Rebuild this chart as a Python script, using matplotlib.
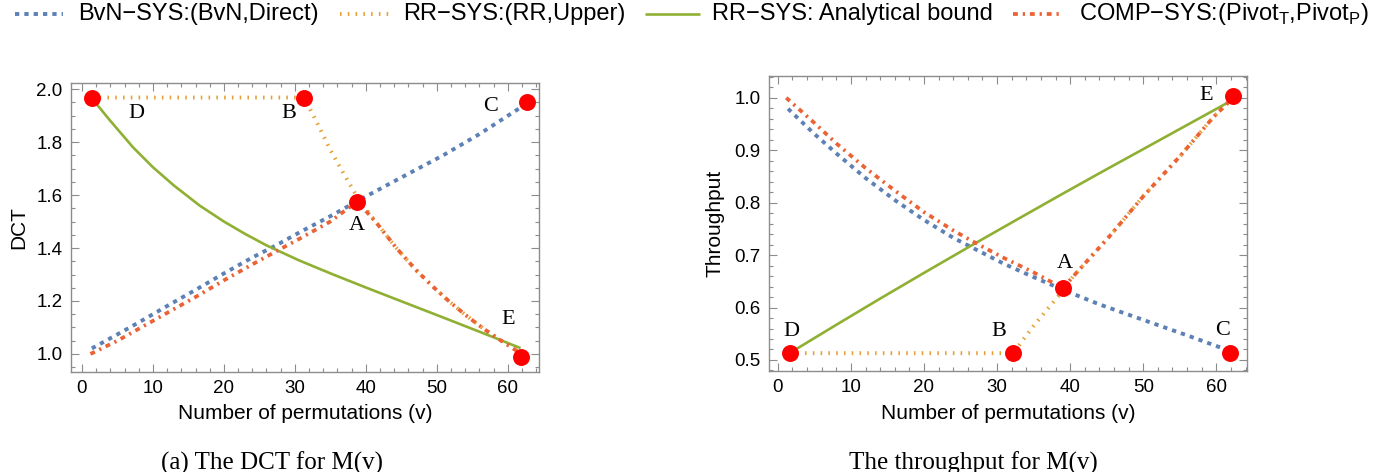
import numpy as np
import matplotlib
matplotlib.use("Agg")
import matplotlib.pyplot as plt
from matplotlib.lines import Line2D
from matplotlib.ticker import MultipleLocator, FormatStrFormatter

plt.rcParams['font.family'] = ['Liberation Sans', 'DejaVu Sans']
plt.rcParams['mathtext.fontset'] = 'custom'
plt.rcParams['mathtext.rm'] = 'Liberation Sans'

# ---------------- data ----------------
# left: DCT
dct_bvn_v = [1.4, 5, 8, 12, 16.2, 20, 24, 27.2, 31, 35, 39, 44, 50.9, 56, 61.9, 62.7]
dct_bvn = [1.021, 1.074, 1.119, 1.181, 1.245, 1.304, 1.364, 1.408, 1.464, 1.520,
           1.580, 1.652, 1.750, 1.830, 1.932, 1.95]

dct_rr_v = [1.4, 31.3, 33, 35, 37, 38.8, 41.5, 44.3, 47.1, 49.5, 51.8, 54.2, 56.5, 58.9, 61.2, 62.0]
dct_rr = [1.968, 1.968, 1.88, 1.77, 1.675, 1.592, 1.495, 1.40, 1.316, 1.253, 1.197,
          1.144, 1.097, 1.053, 1.013, 1.0]

dct_bound_v = [1.4, 4, 7.2, 10, 13, 16.6, 20, 23, 26, 30.7, 35.4, 40, 44.8, 50, 54.2, 58, 61.8]
dct_bound = [1.965, 1.88, 1.78, 1.705, 1.635, 1.560, 1.500, 1.453, 1.410, 1.352,
             1.300, 1.251, 1.201, 1.147, 1.103, 1.063, 1.022]

dct_comp_v = [1.2, 5, 8, 12, 16.2, 20, 24, 27.2, 31, 35, 38.8, 41.5, 44.3, 47.1, 49.5,
              51.8, 54.2, 56.5, 58.9, 61.2, 62.0]
dct_comp = [1.0, 1.05, 1.095, 1.155, 1.218, 1.278, 1.338, 1.385, 1.44, 1.50, 1.576,
            1.495, 1.40, 1.316, 1.253, 1.197, 1.144, 1.097, 1.053, 1.013, 1.0]

dct_pts_v = [38.8, 31.3, 62.7, 1.4, 61.8]
dct_pts = [1.574, 1.968, 1.953, 1.968, 0.99]
dct_lbl_v = [38.8, 29.1, 57.6, 7.6, 60.0]
dct_lbl = [1.486, 1.909, 1.934, 1.909, 1.129]

# right: throughput
thr_bvn_v = [1.4, 5, 8, 12, 16.2, 20, 24, 27.2, 31, 35, 39, 44, 50.9, 56, 61.9]
thr_bvn = [0.979, 0.931, 0.894, 0.847, 0.803, 0.767, 0.733, 0.710, 0.683, 0.658,
           0.634, 0.606, 0.572, 0.547, 0.517]

thr_rr_v = [1.6, 32.2, 35, 39, 40.4, 45.4, 50, 55, 59.6, 62.3]
thr_rr = [0.513, 0.513, 0.565, 0.632, 0.659, 0.736, 0.812, 0.888, 0.963, 1.0]

thr_bound_v = [1.6, 8, 14, 20, 26.2, 32, 38.6, 44, 50, 56, 62]
thr_bound = [0.513, 0.567, 0.617, 0.666, 0.716, 0.762, 0.814, 0.856, 0.902, 0.948, 0.994]

thr_comp_v = [1.15, 5, 8, 12, 16.2, 20, 24, 27.2, 31, 35, 39.0, 40.4, 45.4, 50, 55, 59.6, 62.3]
thr_comp = [1.0, 0.952, 0.913, 0.866, 0.821, 0.782, 0.747, 0.722, 0.694, 0.667, 0.637,
            0.659, 0.736, 0.812, 0.888, 0.963, 1.0]

thr_pts_v = [39.0, 32.2, 61.9, 1.6, 62.3]
thr_pts = [0.637, 0.513, 0.513, 0.513, 1.003]
thr_lbl_v = [39.3, 30.2, 60.9, 1.8, 58.6]
thr_lbl = [0.684, 0.554, 0.556, 0.554, 1.005]

point_names = ["A", "B", "C", "D", "E"]

labels = ["BvN\u2212SYS:(BvN,Direct)", "RR\u2212SYS:(RR,Upper)",
          "RR\u2212SYS: Analytical bound",
          "COMP\u2212SYS:(Pivot$_\\mathrm{T}$,Pivot$_\\mathrm{P}$)"]

# ---------------- styles ----------------
styles = [
    dict(color='#5E81B5', lw=2.8, dashes=(1.1, 1.3), dash_capstyle='butt'),
    dict(color='#E6A030', lw=2.8, dashes=(0.4, 1.6), dash_capstyle='butt'),
    dict(color='#8FB032', lw=1.9, solid_capstyle='butt'),
    dict(color='#EB6235', lw=2.7, dashes=(1.3, 1.3, 0.6, 1.3), dash_capstyle='butt'),
]
GRAY = '#8c8c8c'
SERIF = ['Liberation Serif', 'DejaVu Serif']

fig = plt.figure(figsize=(13.75, 4.72), dpi=100)
ax1 = fig.add_axes([0.0516, 0.2119, 0.3404, 0.6123])
ax2 = fig.add_axes([0.5593, 0.214, 0.3476, 0.6256])


def draw_panel(ax, series, pts_v, pts, lbl_v, lbl):
    for (v, y), st in zip(series, styles):
        ax.plot(v, y, **st)
    ax.plot(pts_v, pts, 'o', color='red', ms=12.2, mec='none', zorder=5,
            clip_on=False)
    for name, x, y in zip(point_names, lbl_v, lbl):
        ax.text(x, y, name, family=SERIF, fontsize=16, ha='center', va='center')
    for sp in ax.spines.values():
        sp.set_color(GRAY)
        sp.set_linewidth(1.0)
    ax.tick_params(which='both', direction='in', top=True, right=True,
                   color=GRAY, width=0.8, labelsize=13.5, pad=6)
    ax.tick_params(which='major', length=5.5)
    ax.tick_params(which='minor', length=3)
    ax.xaxis.set_major_locator(MultipleLocator(10))
    ax.xaxis.set_minor_locator(MultipleLocator(2))
    ax.set_xlabel("Number of permutations (v)", fontsize=15)


draw_panel(ax1, [(dct_bvn_v, dct_bvn), (dct_rr_v, dct_rr),
                 (dct_bound_v, dct_bound), (dct_comp_v, dct_comp)],
           dct_pts_v, dct_pts, dct_lbl_v, dct_lbl)
ax1.set_xlim(-1.55, 64.4)
ax1.set_ylim(0.932, 2.023)
ax1.yaxis.set_major_locator(MultipleLocator(0.2))
ax1.yaxis.set_minor_locator(MultipleLocator(0.05))
ax1.yaxis.set_major_formatter(FormatStrFormatter('%.1f'))
ax1.set_ylabel("DCT", fontsize=15)
ax1.yaxis.set_label_coords(-0.092, 0.5)
ax1.xaxis.set_label_coords(0.5, -0.111)

draw_panel(ax2, [(thr_bvn_v, thr_bvn), (thr_rr_v, thr_rr),
                 (thr_bound_v, thr_bound), (thr_comp_v, thr_comp)],
           thr_pts_v, thr_pts, thr_lbl_v, thr_lbl)
ax2.set_xlim(-1.2, 64.2)
ax2.set_ylim(0.479, 1.042)
ax2.yaxis.set_major_locator(MultipleLocator(0.1))
ax2.yaxis.set_minor_locator(MultipleLocator(0.02))
ax2.yaxis.set_major_formatter(FormatStrFormatter('%.1f'))
ax2.set_ylabel("Throughput", fontsize=15)
ax2.yaxis.set_label_coords(-0.094, 0.5)
ax2.xaxis.set_label_coords(0.5, -0.112)

# legend row across the top (pixel positions of handles / text)
W, H = 1375.0, 472.0
leg_y = 1 - 14 / H
handle_px = [(15, 63), (340, 390), (645, 700), (1013, 1062)]
text_px = [78, 403, 712, 1079]
for (x0, x1), tx, lab, st in zip(handle_px, text_px, labels, styles):
    fig.add_artist(Line2D([x0 / W, x1 / W], [leg_y, leg_y],
                          transform=fig.transFigure, **st))
    fig.text(tx / W, leg_y, lab, fontsize=17, ha='left', va='center')

fig.text(272 / W, 1 - 463 / H, "(a) The DCT for M(v)", family=SERIF,
         fontsize=18, ha='center', va='center')
fig.text(973 / W, 1 - 463 / H, "The throughput for M(v)", family=SERIF,
         fontsize=18, ha='center', va='center')

fig.savefig("out.png", dpi=100)
